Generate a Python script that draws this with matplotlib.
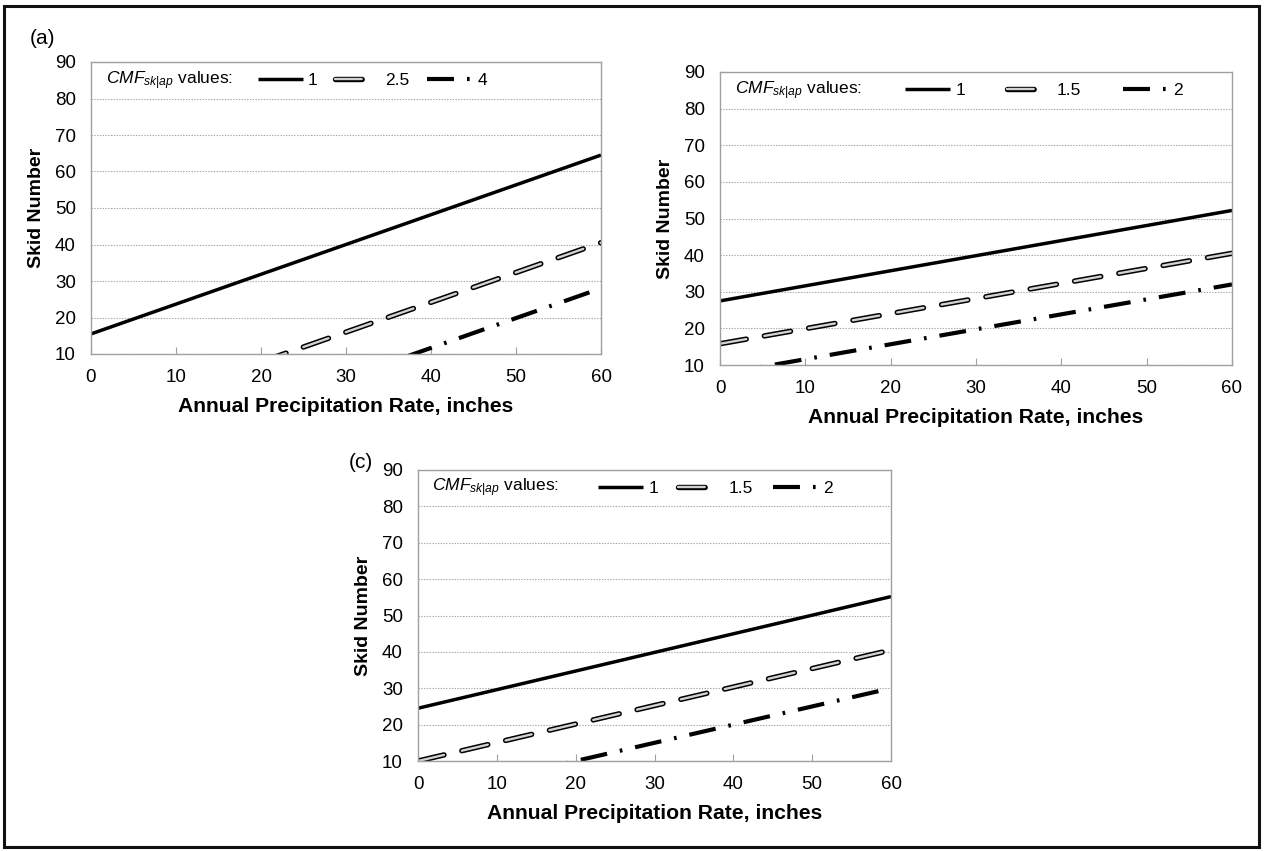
import matplotlib
matplotlib.use('Agg')
import matplotlib.pyplot as plt
import matplotlib.patheffects as pe
from matplotlib.patches import Rectangle

plt.rcParams.update({
    'font.family': ['Liberation Sans', 'DejaVu Sans'],
    'mathtext.fontset': 'custom',
    'mathtext.rm': 'Liberation Sans',
    'mathtext.it': 'Liberation Sans:italic',
    'mathtext.bf': 'Liberation Sans:bold',
    'lines.scale_dashes': False,
})

# ---- data ----
x_rate = [0, 60]                       # annual precipitation rate, inches
y_ticks = [10, 20, 30, 40, 50, 60, 70, 80, 90]
x_ticks = [0, 10, 20, 30, 40, 50, 60]

a_labels = ['1', '2.5', '4']
a_solid = [15.5, 64.5]
a_dashed = [-8.5, 40.5]
a_dashdot = [-21.0, 28.0]

b_labels = ['1', '1.5', '2']
b_solid = [27.5, 52.2]
b_dashed = [15.8, 40.5]
b_dashdot = [7.5, 32.0]

c_labels = ['1', '1.5', '2']
c_solid = [24.5, 55.2]
c_dashed = [10.0, 40.5]
c_dashdot = [0.0, 30.0]

W, H = 1264, 851
fig = plt.figure(figsize=(W / 100, H / 100), dpi=100)


def frac_axes(left, top, right, bottom):
    return fig.add_axes([left / W, 1 - bottom / H, (right - left) / W, (bottom - top) / H])


def draw(ax, solid, dashed, dashdot, labels, leg_x, colsp):
    s, = ax.plot(x_rate, solid, color='black', lw=2.5, solid_capstyle='butt')
    h, = ax.plot(x_rate, dashed, color='#d2d2d2', lw=1.7,
                 linestyle=(0, (19.2, 13.2)), dash_capstyle='round',
                 path_effects=[pe.Stroke(linewidth=3.9, foreground='black'),
                               pe.Normal()])
    d, = ax.plot(x_rate, dashdot, color='black', lw=3.0,
                 linestyle=(0, (19.4, 9.4, 1.9, 9.4)), dash_capstyle='butt')
    ax.set_xlim(0, 60)
    ax.set_ylim(10, 90)
    ax.set_xticks(x_ticks)
    ax.set_yticks(y_ticks)
    ax.yaxis.grid(True, linestyle=(0, (1, 1)), color='#a8a8a8', lw=0.8)
    for sp in ax.spines.values():
        sp.set_color('#a0a0a0')
        sp.set_linewidth(1.0)
    ax.tick_params(axis='x', direction='in', length=5, color='#a0a0a0',
                   labelsize=13.5, pad=11)
    ax.tick_params(axis='y', length=0, labelsize=13.5, pad=11)
    ax.set_xlabel('Annual Precipitation Rate, inches', fontsize=15.2,
                  fontweight='bold', labelpad=8)
    ax.set_ylabel('Skid Number', fontsize=14, fontweight='bold', labelpad=7)
    ax.text(0.03, 0.9375, r'$\mathit{CMF}_{\mathit{sk|ap}}$ values:',
            transform=ax.transAxes, fontsize=12.5, va='center', ha='left')
    ax.legend(handles=[s, h, d], labels=labels, ncol=3,
              loc='center left', bbox_to_anchor=(leg_x, 0.9375),
              frameon=False, fontsize=12.5, borderpad=0, borderaxespad=0,
              handlelength=2.6, handletextpad=0.3, columnspacing=colsp)


ax_a = frac_axes(91, 62, 601, 354)
draw(ax_a, a_solid, a_dashed, a_dashdot, a_labels, 0.327, 1.0)
ax_b = frac_axes(720, 72, 1232, 365)
draw(ax_b, b_solid, b_dashed, b_dashdot, b_labels, 0.361, 2.4)
ax_c = frac_axes(418, 470, 891, 761)
draw(ax_c, c_solid, c_dashed, c_dashdot, c_labels, 0.381, 1.15)

fig.text(30 / W, 1 - 38 / H, '(a)', fontsize=15, va='center', ha='left')
fig.text(349 / W, 1 - 462 / H, '(c)', fontsize=15, va='center', ha='left')

fig.patches.append(Rectangle((4 / W, 4 / H), 1 - 9 / W, 1 - 10 / H,
                             transform=fig.transFigure, fill=False,
                             edgecolor='#111111', lw=2.2))

fig.savefig('out.png', dpi=100)
